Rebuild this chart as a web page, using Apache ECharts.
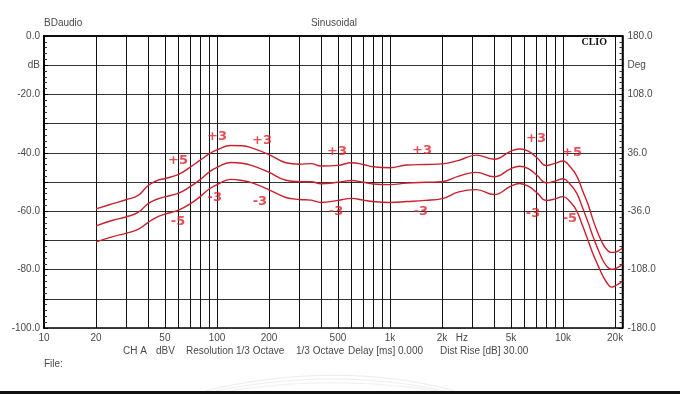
<!DOCTYPE html>
<html><head><meta charset="utf-8">
<script src="https://cdn.jsdelivr.net/npm/echarts@6/dist/echarts.min.js"></script>
<style>html,body{margin:0;padding:0;background:#fff}#c{width:680px;height:394px}</style>
</head><body><div id="c"></div>
<script>
// ---- data ----
const freqs = [20,25,30,35,40,45,50,60,70,80,90,100,120,140,160,200,250,300,350,400,500,600,700,800,1000,1250,1600,2000,2500,3150,4000,5000,5600,6300,7100,8000,9000,10000,11000,12000,13000,14000,15000,16000,17000,18000,19000,20000,21000,22000];
const upperDb = [-59.2,-57.4,-56.0,-54.6,-51.2,-49.5,-48.8,-47.4,-44.9,-42.5,-40.4,-39.0,-37.5,-37.6,-38.4,-40.6,-43.4,-43.9,-43.7,-44.5,-44.3,-43.4,-44.0,-44.8,-45.1,-44.2,-44.0,-43.8,-42.6,-40.8,-42.2,-39.4,-38.7,-39.4,-41.8,-44.4,-43.6,-42.8,-44.8,-47.9,-53.1,-57.9,-63.4,-67.8,-71.2,-73.3,-74.1,-74.0,-73.5,-72.6];
const middleDb = [-65.0,-63.1,-61.9,-60.4,-57.4,-55.9,-55.1,-53.8,-51.6,-49.2,-46.6,-45.0,-43.3,-43.6,-44.4,-46.7,-49.4,-49.9,-49.9,-50.6,-50.1,-49.5,-50.1,-50.7,-50.9,-50.4,-50.1,-49.9,-48.0,-46.7,-48.2,-45.4,-44.6,-45.4,-47.8,-50.3,-49.7,-48.9,-50.8,-53.8,-58.9,-64.0,-69.1,-73.3,-76.8,-79.0,-79.9,-79.7,-79.1,-78.3];
const lowerDb = [-70.5,-68.7,-67.5,-66.2,-63.8,-62.0,-61.0,-59.6,-57.5,-55.0,-52.4,-50.9,-49.1,-49.5,-50.3,-52.7,-55.3,-56.0,-56.2,-57.0,-56.3,-55.6,-56.2,-56.7,-57.0,-56.7,-56.3,-55.7,-53.4,-52.6,-54.3,-51.4,-50.5,-51.4,-53.8,-56.3,-55.8,-55.0,-56.8,-59.9,-65.1,-70.2,-75.0,-78.8,-82.2,-84.6,-86.0,-85.6,-84.9,-84.1];
const gridFreqs = [20,30,40,50,60,70,80,90,100,200,300,400,500,600,700,800,900,1000,2000,3000,4000,5000,6000,7000,8000,9000,10000,20000];
const tickFreqs = [10,20,50,100,200,500,1000,2000,2600,5000,10000,20000];
const tickLabels = ['10','20','50','100','200','500','1k','2k','Hz','5k','10k','20k'];
const annFreqs = [59.5,59.5,100,97,182,177,494,488,1531,1507,6980,6710,11270,10970];
const annDb = [-42.8,-63.7,-34.6,-55.5,-36.0,-56.8,-39.7,-60.3,-39.4,-60.3,-35.3,-61.0,-40.1,-62.7];
const annText = ['+5','-5','+3','-3','+3','-3','+3','-3','+3','-3','+3','-3','+5','-5'];

const FONT = '"Liberation Sans", Arial, sans-serif';
const TXT = '#4a4a4a';
const RED = '#cc1f2e';
const chart = echarts.init(document.getElementById('c'), null, {renderer: 'canvas'});

function pairs(ys) { return freqs.map((f, i) => [f, ys[i]]); }
function curve(name, ys) {
  return { name, type: 'line', data: pairs(ys), showSymbol: false, smooth: 0.45, z: 5,
    lineStyle: { color: RED, width: 1.4 }, itemStyle: { color: RED }, animation: false, silent: true };
}

chart.setOption({
  backgroundColor: '#fff',
  animation: false,
  grid: { left: 44, top: 36, width: 578.5, height: 292, show: true, borderColor: '#000', borderWidth: 1.5, outerBoundsMode: 'none', containLabel: false },
  xAxis: {
    type: 'log', logBase: 10, min: 10, max: 22080,
    axisLine: { show: true, lineStyle: { color: '#000', width: 1.5 } },
    axisTick: { show: false }, minorTick: { show: false },
    splitLine: { show: false }, minorSplitLine: { show: false },
    axisLabel: {
      customValues: tickFreqs, margin: 5, color: TXT, fontFamily: FONT, fontSize: 10,
      showMinLabel: true, showMaxLabel: true, hideOverlap: false,
      formatter: v => { const i = tickFreqs.findIndex(f => Math.abs(f - v) / f < 1e-4); return i >= 0 ? tickLabels[i] : ''; }
    }
  },
  yAxis: [{
    type: 'value', min: -100, max: 0, interval: 10, position: 'left',
    axisLine: { show: true, lineStyle: { color: '#000', width: 2 } },
    axisTick: { show: true, inside: true, length: 4, lineStyle: { color: '#000' } },
    minorTick: { show: true, splitNumber: 5, length: 3, lineStyle: { color: '#333' } },
    splitLine: { show: true, lineStyle: { color: '#333', width: 1 } },
    axisLabel: { margin: 4, color: TXT, fontFamily: FONT, fontSize: 10,
      formatter: v => v === -10 ? 'dB' : (v % 20 === 0 ? v.toFixed(1) : '') }
  }, {
    type: 'value', min: -180, max: 180, interval: 36, position: 'right',
    axisLine: { show: true, lineStyle: { color: '#000', width: 1.5 } },
    axisTick: { show: true, inside: true, length: 4, lineStyle: { color: '#000' } },
    minorTick: { show: true, splitNumber: 5, length: 3, lineStyle: { color: '#333' } },
    splitLine: { show: false },
    axisLabel: { margin: 5, color: TXT, fontFamily: FONT, fontSize: 10,
      formatter: v => v === 144 ? 'Deg' : (Math.abs((v - 36) % 72) < 1e-6 ? v.toFixed(1) : '') }
  }],
  series: [
    { type: 'scatter', data: [], z: 1, silent: true,
      markLine: { silent: true, symbol: ['none', 'none'], animation: false, label: { show: false },
        lineStyle: { color: '#111', width: 1, type: 'solid' },
        data: gridFreqs.map(f => ({ xAxis: f })) } },
    curve('upper', upperDb),
    curve('middle', middleDb),
    curve('lower', lowerDb),
    { type: 'scatter', z: 6, silent: true, symbolSize: 1, itemStyle: { color: 'rgba(0,0,0,0)' },
      data: annFreqs.map((f, i) => ({ value: [f, annDb[i]], name: annText[i] })),
      label: { show: true, position: 'inside', formatter: p => p.name, color: '#e0202a',
        fontFamily: '"DejaVu Sans", Verdana, sans-serif', fontWeight: 'bold', fontSize: 13 } }
  ],
  graphic: [
    { type: 'text', x: 44, y: 23, style: { text: 'BDaudio', font: '10px ' + FONT, fill: TXT, textVerticalAlign: 'middle' } },
    { type: 'text', x: 334, y: 23, style: { text: 'Sinusoidal', font: '10px ' + FONT, fill: TXT, textAlign: 'center', textVerticalAlign: 'middle' } },
    { type: 'text', x: 607, y: 42, z: 10, style: { text: 'CLIO', font: 'bold 10px "Liberation Serif", "Times New Roman", serif', fill: '#111', textAlign: 'right', textVerticalAlign: 'middle' } },
    { type: 'text', x: 123, y: 351, style: { text: 'CH A', font: '10px ' + FONT, fill: TXT, textVerticalAlign: 'middle' } },
    { type: 'text', x: 156, y: 351, style: { text: 'dBV', font: '10px ' + FONT, fill: TXT, textVerticalAlign: 'middle' } },
    { type: 'text', x: 186, y: 351, style: { text: 'Resolution 1/3 Octave', font: '10px ' + FONT, fill: TXT, textVerticalAlign: 'middle' } },
    { type: 'text', x: 296, y: 351, style: { text: '1/3 Octave', font: '10px ' + FONT, fill: TXT, textVerticalAlign: 'middle' } },
    { type: 'text', x: 348, y: 351, style: { text: 'Delay [ms] 0.000', font: '10px ' + FONT, fill: TXT, textVerticalAlign: 'middle' } },
    { type: 'text', x: 440, y: 351, style: { text: 'Dist Rise [dB] 30.00', font: '10px ' + FONT, fill: TXT, textVerticalAlign: 'middle' } },
    { type: 'text', x: 44, y: 364, style: { text: 'File:', font: '10px ' + FONT, fill: TXT, textVerticalAlign: 'middle' } },
    { type: 'bezierCurve', shape: { x1: 205, y1: 391, x2: 455, y2: 391, cpx1: 290, cpy1: 370, cpx2: 380, cpy2: 370 }, style: { stroke: '#ebebeb', lineWidth: 1, fill: null } },
    { type: 'bezierCurve', shape: { x1: 215, y1: 391, x2: 445, y2: 391, cpx1: 295, cpy1: 375, cpx2: 370, cpy2: 375 }, style: { stroke: '#eeeeee', lineWidth: 1, fill: null } },
    { type: 'bezierCurve', shape: { x1: 228, y1: 391, x2: 438, y2: 391, cpx1: 300, cpy1: 380, cpx2: 365, cpy2: 380 }, style: { stroke: '#f0f0f0', lineWidth: 1, fill: null } },
    { type: 'rect', shape: { x: 0, y: 391, width: 680, height: 3 }, style: { fill: '#111' } }
  ]
});
</script>
</body></html>
